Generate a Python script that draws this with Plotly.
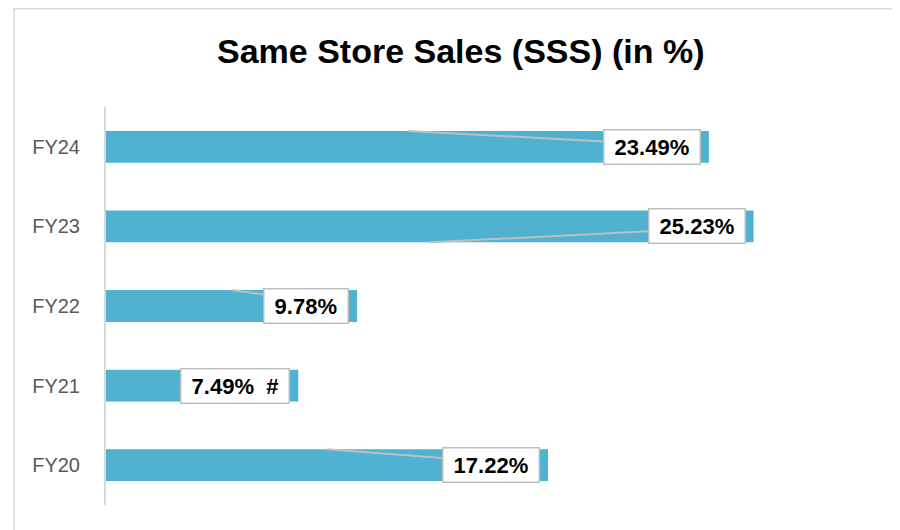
import plotly.graph_objects as go

# ---- data ----
categories = ["FY20", "FY21", "FY22", "FY23", "FY24"]
sss_values = [17.22, 7.49, 9.78, 25.23, 23.49]
label_suffix = ["", "&nbsp;&nbsp;#", "", "", ""]
chart_title = "Same Store Sales (SSS) (in %)"

# ---- layout constants ----
PAGE_OFF = 8          # browser body margin
W, H = 900 - PAGE_OFF, 530 - PAGE_OFF
L, R, T, B = 106 - PAGE_OFF, 24, 107 - PAGE_OFF, 25
XMAX = 30
plot_w = W - L - R
plot_h = H - T - B
scale = plot_w / XMAX  # px per unit
BAR_COLOR = "#4EB2D0"
GRID_GREY = "#D9D9D9"
LEADER_GREY = "#BFBFBF"
leader_side = [1, -1, 1, -1, 1]  # +1: top edge of bar, -1: bottom edge
BAR_W = 0.4


def px_to_paper_x(px):
    return (px - PAGE_OFF - L) / plot_w


def px_to_paper_y(py):
    return (H - B - (py - PAGE_OFF)) / plot_h


fig = go.Figure()
fig.add_trace(go.Bar(
    x=sss_values, y=categories, orientation="h",
    marker=dict(color=BAR_COLOR, line=dict(width=0)),
    width=BAR_W, hoverinfo="skip",
))

annotations = []
for i, (v, suf) in enumerate(zip(sss_values, label_suffix)):
    txt = f"&nbsp;{v:.2f}%{suf}&nbsp;"
    annotations.append(dict(
        x=v / 2, y=i + leader_side[i] * BAR_W / 2, xref="x", yref="y",
        ax=v - 8 / scale, ay=i, axref="x", ayref="y",
        xanchor="right", yanchor="middle",
        text=f"<b>{txt}</b>",
        font=dict(family="Liberation Sans, Arial", size=22, color="#000000"),
        showarrow=True, arrowhead=0, arrowwidth=2, arrowcolor=LEADER_GREY,
        bgcolor="#FFFFFF", bordercolor=LEADER_GREY, borderwidth=1.5, borderpad=4,
    ))

annotations.append(dict(
    x=px_to_paper_x(461), y=px_to_paper_y(51), xref="paper", yref="paper",
    xanchor="center", yanchor="middle", showarrow=False,
    text=f"<b>{chart_title}</b>",
    font=dict(family="Liberation Sans, Arial", size=34, color="#000000"),
))

shapes = [
    dict(type="line", xref="paper", yref="paper",
         x0=px_to_paper_x(14), x1=px_to_paper_x(900), y0=px_to_paper_y(8.8), y1=px_to_paper_y(8.8),
         line=dict(color=GRID_GREY, width=1.5)),
    dict(type="line", xref="paper", yref="paper",
         x0=px_to_paper_x(14), x1=px_to_paper_x(14), y0=px_to_paper_y(8), y1=px_to_paper_y(530),
         line=dict(color=GRID_GREY, width=1.5)),
]

fig.update_layout(
    width=W, height=H,
    margin=dict(l=L, r=R, t=T, b=B, pad=0),
    paper_bgcolor="#FFFFFF", plot_bgcolor="#FFFFFF",
    showlegend=False,
    annotations=annotations,
    shapes=shapes,
    xaxis=dict(range=[0, XMAX], visible=False, showgrid=False, zeroline=False, fixedrange=True),
    yaxis=dict(
        type="category", categoryorder="array", categoryarray=categories,
        showline=True, linecolor=GRID_GREY, linewidth=2, showgrid=False, zeroline=False,
        ticks="", ticklabelstandoff=20,
        tickfont=dict(family="Liberation Sans, Arial", size=20, color="#595959"),
        fixedrange=True,
    ),
)

fig.write_html("out.html", config={"displayModeBar": False})
